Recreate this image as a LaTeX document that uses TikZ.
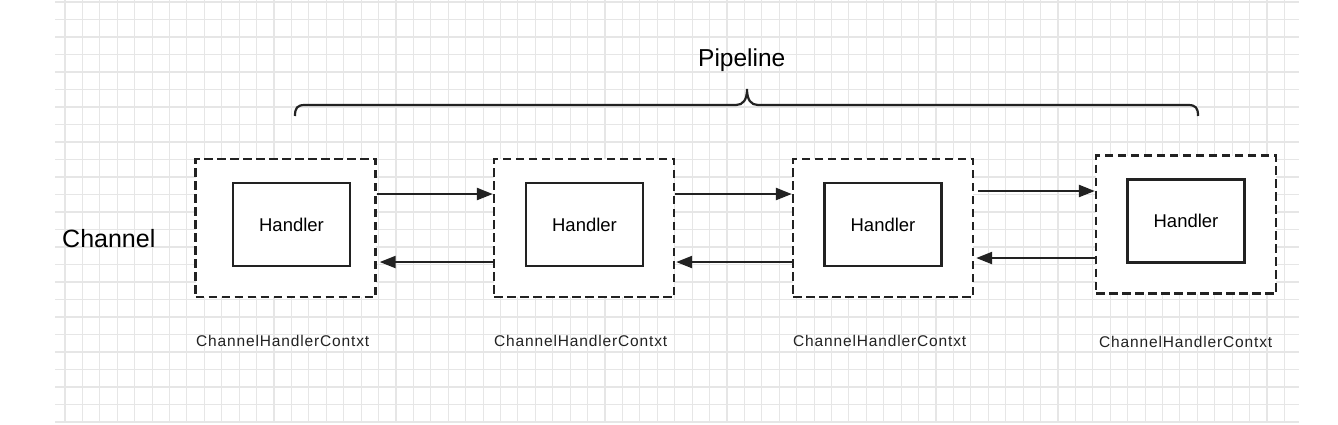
\documentclass[tikz,border=0pt]{standalone}
\usepackage{fontspec}
\setmainfont{Liberation Sans}
\usetikzlibrary{arrows.meta}
\definecolor{gridc}{HTML}{E6E6E6}
\definecolor{ink}{HTML}{222222}
\begin{document}
\begin{tikzpicture}[x=1pt,y=-1pt,
  ctxbox/.style={draw=ink, line width=2.4pt, dash pattern=on 8.5pt off 4.5pt, fill=white, inner sep=0pt, minimum width=180pt, minimum height=138pt},
  hbox/.style={draw=ink, line width=2.2pt, fill=white, inner sep=0pt, minimum width=117pt, minimum height=83pt, font=\fontsize{18.5}{20}\selectfont},
  arr/.style={draw=ink, line width=2.3pt, -{Triangle[length=16pt,width=12pt]}},
  lbl/.style={anchor=base west, inner sep=0pt, text=ink, font=\fontsize{15.5}{17}\selectfont\addfontfeature{LetterSpace=5.5}},
  bigtxt/.style={anchor=base west, inner sep=0pt, text=black}]
\useasboundingbox (0,0) rectangle (1338,424);
\fill[white] (0,0) rectangle (1338,424);
% grid
\begin{scope}[draw=gridc, line width=1.1pt]
\foreach \k in {0,...,70} \draw ({65+17.42*\k},0) -- ({65+17.42*\k},422);
\foreach \k in {0,...,24} \draw (55,{2+17.5*\k}) -- (1299,{2+17.5*\k});
\end{scope}
% titles
\node[bigtxt, font=\fontsize{24.5}{28}\selectfont] (pipe) at (698,66) {Pipeline};
\node[bigtxt, font=\fontsize{25}{28}\selectfont] (chan) at (62,247) {Channel};
% brace
\draw[ink, line width=2.2pt] (295,116) .. controls (295,108) and (297,105) .. (305,105) -- (736,105) .. controls (743,105) and (747,100) .. (747,89) .. controls (747,100) and (751,105) .. (758,105) -- (1188,105) .. controls (1196,105) and (1198,108) .. (1198,116);
% contexts and handlers
\node[ctxbox] (c1) at (285.5,228) {};
\node[hbox] (h1) at (291.5,224.5) {Handler};
\node[ctxbox] (c2) at (584,228) {};
\node[hbox] (h2) at (584.5,224.5) {Handler};
\node[ctxbox] (c3) at (883,228) {};
\node[hbox] (h3) at (883,224.5) {Handler};
\node[ctxbox] (c4) at (1186,224.5) {};
\node[hbox] (h4) at (1186,221) {Handler};
% arrows
\draw[arr] (c1.east |- 0,194) -- (c2.west |- 0,194);
\draw[arr] (c2.west |- 0,262) -- ([xshift=3pt]c1.east |- 0,262);
\draw[arr] (c2.east |- 0,194) -- (c3.west |- 0,194);
\draw[arr] (c3.west |- 0,262) -- ([xshift=1pt]c2.east |- 0,262);
\draw[arr] ([xshift=4pt]c3.east |- 0,191) -- (c4.west |- 0,191);
\draw[arr] (c4.west |- 0,258) -- ([xshift=2pt]c3.east |- 0,258);
% labels
\node[lbl] (l1) at (196,346) {ChannelHandlerContxt};
\node[lbl] (l2) at (494,346) {ChannelHandlerContxt};
\node[lbl] (l3) at (793,346) {ChannelHandlerContxt};
\node[lbl] (l4) at (1099,347) {ChannelHandlerContxt};
\end{tikzpicture}
\end{document}
